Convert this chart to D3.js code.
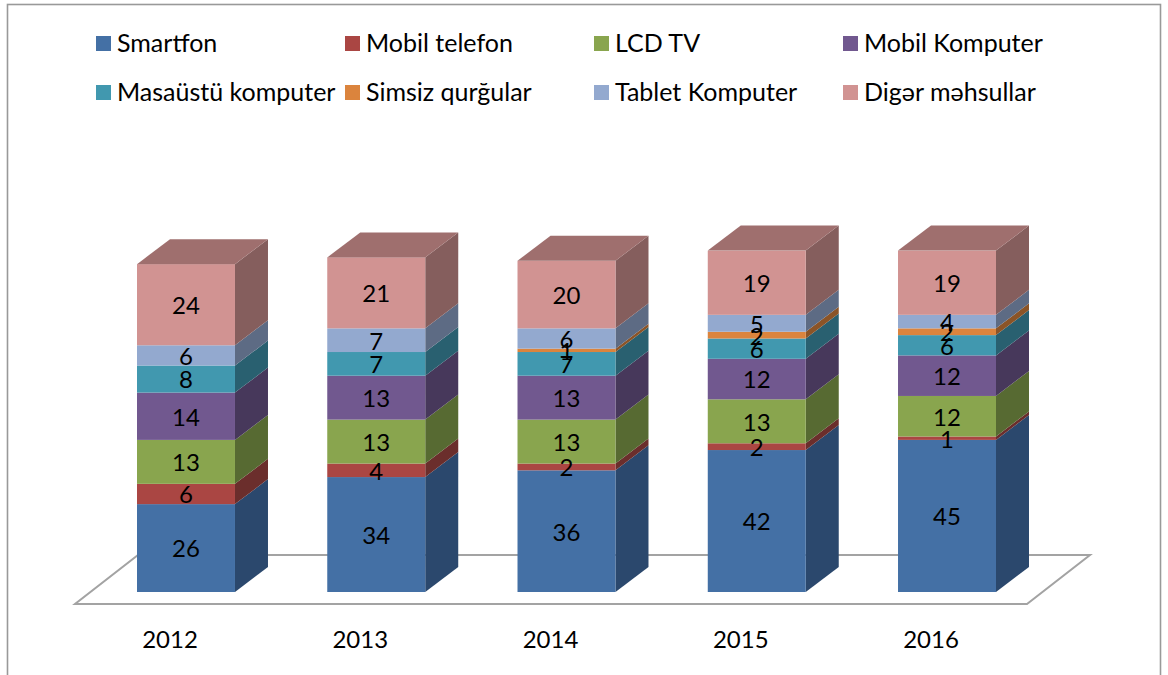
<!DOCTYPE html>
<html>
<head>
<meta charset="utf-8">
<script src="https://cdn.jsdelivr.net/npm/d3@7"></script>
<style>
  html, body { margin: 0; padding: 0; background: #fff; overflow: hidden; }
  text { font-family: Lato, "Open Sans", sans-serif; fill: #000; }
</style>
</head>
<body>
<script>
var years = ['2012', '2013', '2014', '2015', '2016']
var seriesNames = ['Smartfon', 'Mobil telefon', 'LCD TV', 'Mobil Komputer',
    'Masaüstü komputer', 'Simsiz qurğular', 'Tablet Komputer', 'Digər məhsullar']

var smartfon = [26, 34, 36, 42, 45]
var mobilTelefon = [6, 4, 2, 2, 1]
var lcdTv = [13, 13, 13, 13, 12]
var mobilKomputer = [14, 13, 13, 12, 12]
var masaustu = [8, 7, 7, 6, 6]
var simsiz = [0, 0, 1, 2, 2]
var tablet = [6, 7, 6, 5, 4]
var diger = [24, 21, 20, 19, 19]

var frontColors = ['#4470a5', '#aa4643', '#89a54e', '#71588f', '#4198af', '#db843d', '#93a9cf', '#d19392']
var sideColors = ['#2b486d', '#6b2e2c', '#576a32', '#47385b', '#296070', '#8b5427', '#5d6b84', '#855e5d']
var lidColor = '#9f6f6e'

var width = 1168, height = 675
var depthX = 33, depthY = 25

// one row per year, so d3.stack can work on it
var rows = years.map((year, i) => {
    var row = { year: year }
    var columns = [smartfon, mobilTelefon, lcdTv, mobilKomputer, masaustu, simsiz, tablet, diger]
    seriesNames.forEach((name, s) => { row[name] = columns[s][i] })
    return row
})
var layers = d3.stack().keys(seriesNames)(rows)

// set ranges
var x = d3.scaleBand().domain(years).range([137, 996]).paddingInner(0.485).paddingOuter(0)
var y = d3.scaleLinear().domain([0, 100]).range([592, 254])

var svg = d3.select('body').append('svg')
    .attr('width', width)
    .attr('height', height)

// outer frame, runs off the bottom of the page
svg.append('rect')
    .attr('x', 7.5).attr('y', 4.5)
    .attr('width', 1153).attr('height', 700)
    .attr('fill', '#fff')
    .attr('stroke', '#999')
    .attr('stroke-width', 1.6)

// floor of the 3d plot
svg.append('path')
    .attr('d', 'M75,604 L1027,604 L1090,555 L138,555 Z')
    .attr('fill', '#fff')
    .attr('stroke', '#a3a3a3')
    .attr('stroke-width', 2)

// bars, bottom segment first
layers.forEach((layer, s) => {
    var g = svg.append('g').attr('class', 'series')

    g.selectAll('path.side')
        .data(layer)
        .enter().append('path')
        .attr('class', 'side')
        .attr('fill', sideColors[s])
        .attr('d', d => {
            var x1 = x(d.data.year) + x.bandwidth()
            return `M${x1},${y(d[0])} L${x1 + depthX},${y(d[0]) - depthY} L${x1 + depthX},${y(d[1]) - depthY} L${x1},${y(d[1])} Z`
        })

    g.selectAll('rect')
        .data(layer)
        .enter().append('rect')
        .attr('x', d => x(d.data.year))
        .attr('y', d => y(d[1]))
        .attr('width', x.bandwidth())
        .attr('height', d => y(d[0]) - y(d[1]))
        .attr('fill', frontColors[s])
})

// lid only on the last series
var lastLayer = layers[layers.length - 1]
svg.selectAll('path.lid')
    .data(lastLayer)
    .enter().append('path')
    .attr('class', 'lid')
    .attr('fill', lidColor)
    .attr('d', d => {
        var x0 = x(d.data.year), x1 = x0 + x.bandwidth(), t = y(d[1])
        return `M${x0},${t} L${x1},${t} L${x1 + depthX},${t - depthY} L${x0 + depthX},${t - depthY} Z`
    })

// data labels go on top of everything, they overlap in the thin segments
layers.forEach(layer => {
    svg.append('g').selectAll('text')
        .data(layer.filter(d => d[1] - d[0] > 0))
        .enter().append('text')
        .attr('x', d => x(d.data.year) + x.bandwidth() / 2)
        .attr('y', d => y((d[0] + d[1]) / 2) + 1)
        .attr('dy', '0.35em')
        .attr('text-anchor', 'middle')
        .attr('font-size', 24)
        .text(d => d[1] - d[0])
})

// x-axis, labels sit to the left of the bars because of the 3d shift
var axis = svg.append('g')
    .attr('transform', 'translate(-16, 604)')
    .call(d3.axisBottom(x).tickSize(0).tickPadding(27))
axis.select('.domain').remove()
axis.selectAll('text')
    .attr('font-size', 24)

// legend, 4 columns and 2 rows
var legend = svg.append('g')
var legendItems = legend.selectAll('g')
    .data(seriesNames)
    .enter().append('g')
    .attr('transform', (d, i) => `translate(${96 + (i % 4) * 249}, ${Math.floor(i / 4) * 49 + 36})`)

legendItems.append('rect')
    .attr('width', 15)
    .attr('height', 15)
    .attr('fill', (d, i) => frontColors[i])

legendItems.append('text')
    .attr('x', 21)
    .attr('y', 7)
    .attr('dy', '0.35em')
    .attr('font-size', 25)
    .text(d => d)
</script>
</body>
</html>
